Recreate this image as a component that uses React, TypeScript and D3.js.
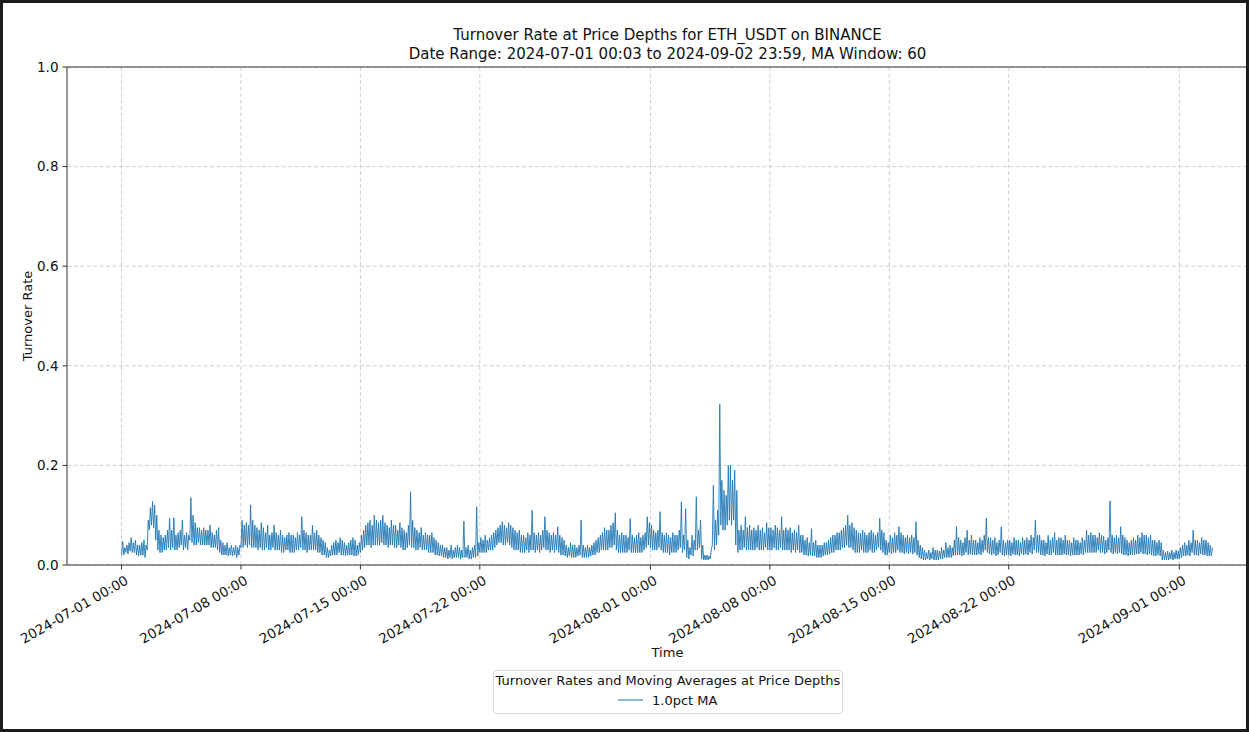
import React from "react";
import * as d3 from "d3";

// 1.0pct MA turnover rate: for every 3-hour slot the band top (highs) and
// band bottom (lows); one row per day, one array pair per week.
const highsW1 = [
  0.048, 0.035, 0.04, 0.045, 0.055, 0.045, 0.05, 0.04,
  0.04, 0.045, 0.05, 0.04, 0.09, 0.115, 0.128, 0.12,
  0.1, 0.07, 0.06, 0.055, 0.06, 0.07, 0.094, 0.07,
  0.095, 0.06, 0.065, 0.07, 0.09, 0.06, 0.065, 0.06,
  0.135, 0.1, 0.085, 0.075, 0.075, 0.07, 0.075, 0.07,
  0.07, 0.08, 0.065, 0.06, 0.07, 0.075, 0.05, 0.045,
  0.04, 0.045, 0.035, 0.04, 0.035, 0.04, 0.035, 0.04,
];
const lowsW1 = [
  0.02, 0.02, 0.025, 0.022, 0.028, 0.025, 0.025, 0.02,
  0.018, 0.02, 0.02, 0.015, 0.03, 0.07, 0.08, 0.075,
  0.05, 0.03, 0.025, 0.025, 0.03, 0.03, 0.035, 0.03,
  0.035, 0.03, 0.03, 0.035, 0.04, 0.03, 0.035, 0.03,
  0.05, 0.045, 0.04, 0.04, 0.045, 0.04, 0.04, 0.04,
  0.04, 0.04, 0.035, 0.035, 0.035, 0.03, 0.025, 0.02,
  0.02, 0.02, 0.018, 0.02, 0.018, 0.02, 0.015, 0.02,
];
const highsW2 = [
  0.09, 0.08, 0.085, 0.08, 0.12, 0.09, 0.08, 0.075,
  0.07, 0.085, 0.075, 0.065, 0.08, 0.06, 0.065, 0.08,
  0.065, 0.06, 0.07, 0.06, 0.055, 0.06, 0.065, 0.06,
  0.06, 0.055, 0.065, 0.06, 0.097, 0.07, 0.065, 0.06,
  0.06, 0.08, 0.065, 0.07, 0.06, 0.055, 0.05, 0.045,
  0.035, 0.03, 0.04, 0.045, 0.05, 0.045, 0.055, 0.05,
  0.045, 0.04, 0.045, 0.05, 0.055, 0.05, 0.04, 0.045,
];
const lowsW2 = [
  0.035, 0.035, 0.04, 0.035, 0.04, 0.035, 0.035, 0.035,
  0.03, 0.035, 0.03, 0.03, 0.035, 0.03, 0.03, 0.035,
  0.03, 0.03, 0.03, 0.025, 0.025, 0.03, 0.03, 0.025,
  0.025, 0.025, 0.03, 0.03, 0.035, 0.03, 0.03, 0.025,
  0.03, 0.03, 0.03, 0.03, 0.025, 0.025, 0.02, 0.02,
  0.015, 0.015, 0.018, 0.02, 0.02, 0.02, 0.025, 0.02,
  0.02, 0.018, 0.02, 0.02, 0.02, 0.018, 0.018, 0.02,
];
const highsW3 = [
  0.06, 0.07, 0.08, 0.085, 0.09, 0.08, 0.1, 0.09,
  0.085, 0.09, 0.1, 0.085, 0.08, 0.075, 0.09, 0.08,
  0.08, 0.07, 0.085, 0.075, 0.07, 0.065, 0.08, 0.147,
  0.09, 0.075, 0.07, 0.065, 0.075, 0.06, 0.065, 0.06,
  0.06, 0.065, 0.055, 0.05, 0.045, 0.04, 0.04, 0.035,
  0.035, 0.03, 0.04, 0.03, 0.035, 0.04, 0.035, 0.03,
  0.088, 0.035, 0.04, 0.03, 0.035, 0.04, 0.117, 0.045,
];
const lowsW3 = [
  0.025, 0.03, 0.035, 0.04, 0.04, 0.035, 0.04, 0.04,
  0.04, 0.04, 0.045, 0.04, 0.04, 0.035, 0.04, 0.04,
  0.035, 0.035, 0.04, 0.035, 0.03, 0.03, 0.035, 0.04,
  0.035, 0.035, 0.03, 0.03, 0.035, 0.03, 0.03, 0.03,
  0.025, 0.025, 0.025, 0.02, 0.02, 0.018, 0.018, 0.015,
  0.015, 0.012, 0.015, 0.012, 0.015, 0.015, 0.015, 0.012,
  0.015, 0.015, 0.015, 0.012, 0.012, 0.015, 0.015, 0.018,
];
const highsW4 = [
  0.055, 0.05, 0.06, 0.05, 0.055, 0.06, 0.065, 0.07,
  0.075, 0.08, 0.087, 0.08, 0.075, 0.085, 0.08, 0.075,
  0.07, 0.065, 0.07, 0.06, 0.06, 0.055, 0.065, 0.06,
  0.11, 0.065, 0.06, 0.065, 0.06, 0.07, 0.097, 0.07,
  0.065, 0.06, 0.065, 0.06, 0.077, 0.06, 0.055, 0.05,
  0.04, 0.035, 0.045, 0.04, 0.04, 0.035, 0.04, 0.09,
  0.04, 0.035, 0.04, 0.035, 0.04, 0.045, 0.05, 0.055,
];
const lowsW4 = [
  0.025, 0.025, 0.025, 0.025, 0.03, 0.03, 0.03, 0.035,
  0.04, 0.045, 0.045, 0.04, 0.04, 0.045, 0.04, 0.035,
  0.03, 0.03, 0.03, 0.025, 0.025, 0.025, 0.03, 0.025,
  0.03, 0.03, 0.025, 0.03, 0.025, 0.03, 0.035, 0.03,
  0.03, 0.025, 0.03, 0.025, 0.03, 0.025, 0.02, 0.02,
  0.018, 0.015, 0.018, 0.015, 0.015, 0.015, 0.018, 0.02,
  0.015, 0.015, 0.015, 0.015, 0.018, 0.02, 0.02, 0.025,
];
const highsW5 = [
  0.06, 0.065, 0.075, 0.07, 0.07, 0.08, 0.085, 0.105,
  0.07, 0.06, 0.065, 0.06, 0.06, 0.055, 0.093, 0.06,
  0.055, 0.06, 0.065, 0.055, 0.06, 0.065, 0.097, 0.085,
  0.08, 0.07, 0.065, 0.07, 0.107, 0.065, 0.06, 0.065,
  0.06, 0.055, 0.065, 0.06, 0.06, 0.07, 0.127, 0.06,
  0.113, 0.05, 0.035, 0.06, 0.05, 0.137, 0.07, 0.09,
  0.04, 0.02, 0.02, 0.018, 0.03, 0.16, 0.09, 0.11,
];
const lowsW5 = [
  0.025, 0.03, 0.03, 0.03, 0.03, 0.035, 0.035, 0.04,
  0.03, 0.025, 0.025, 0.025, 0.025, 0.025, 0.03, 0.025,
  0.025, 0.025, 0.025, 0.025, 0.025, 0.03, 0.035, 0.04,
  0.035, 0.03, 0.03, 0.03, 0.035, 0.03, 0.025, 0.025,
  0.025, 0.02, 0.025, 0.025, 0.025, 0.03, 0.035, 0.025,
  0.03, 0.015, 0.012, 0.02, 0.018, 0.03, 0.03, 0.035,
  0.012, 0.01, 0.01, 0.01, 0.012, 0.04, 0.03, 0.04,
];
const highsW6 = [
  0.323, 0.17, 0.15, 0.14, 0.2, 0.2, 0.17, 0.19,
  0.15, 0.07, 0.08, 0.07, 0.097, 0.075, 0.08, 0.07,
  0.075, 0.07, 0.08, 0.07, 0.075, 0.065, 0.085, 0.075,
  0.075, 0.07, 0.08, 0.075, 0.07, 0.097, 0.07, 0.075,
  0.07, 0.075, 0.065, 0.07, 0.065, 0.08, 0.06, 0.06,
  0.05, 0.055, 0.045, 0.073, 0.045, 0.05, 0.04, 0.04,
  0.04, 0.045, 0.045, 0.05, 0.055, 0.06, 0.06, 0.065,
];
const lowsW6 = [
  0.06, 0.08, 0.07, 0.07, 0.08, 0.09, 0.08, 0.09,
  0.04, 0.025, 0.03, 0.03, 0.035, 0.03, 0.03, 0.03,
  0.03, 0.03, 0.035, 0.03, 0.03, 0.03, 0.035, 0.03,
  0.03, 0.03, 0.035, 0.03, 0.03, 0.035, 0.03, 0.03,
  0.03, 0.03, 0.025, 0.03, 0.025, 0.03, 0.025, 0.025,
  0.02, 0.02, 0.018, 0.02, 0.018, 0.018, 0.015, 0.015,
  0.015, 0.018, 0.02, 0.02, 0.022, 0.025, 0.025, 0.03,
];
const highsW7 = [
  0.065, 0.07, 0.075, 0.08, 0.1, 0.08, 0.085, 0.075,
  0.07, 0.065, 0.064, 0.07, 0.065, 0.06, 0.065, 0.07,
  0.065, 0.06, 0.065, 0.094, 0.07, 0.065, 0.05, 0.045,
  0.06, 0.055, 0.065, 0.06, 0.077, 0.065, 0.06, 0.055,
  0.06, 0.055, 0.06, 0.055, 0.087, 0.05, 0.04, 0.035,
  0.03, 0.025, 0.03, 0.025, 0.035, 0.03, 0.03, 0.028,
  0.035, 0.03, 0.045, 0.035, 0.04, 0.035, 0.05, 0.077,
];
const lowsW7 = [
  0.03, 0.03, 0.035, 0.035, 0.04, 0.035, 0.035, 0.03,
  0.025, 0.025, 0.025, 0.03, 0.025, 0.025, 0.025, 0.03,
  0.025, 0.025, 0.03, 0.035, 0.03, 0.025, 0.02, 0.02,
  0.025, 0.022, 0.025, 0.025, 0.03, 0.025, 0.025, 0.022,
  0.025, 0.022, 0.025, 0.022, 0.025, 0.02, 0.015, 0.012,
  0.01, 0.01, 0.012, 0.01, 0.012, 0.01, 0.01, 0.01,
  0.012, 0.012, 0.015, 0.015, 0.015, 0.015, 0.018, 0.02,
];
const highsW8 = [
  0.055, 0.05, 0.045, 0.055, 0.07, 0.05, 0.06, 0.05,
  0.05, 0.045, 0.055, 0.05, 0.06, 0.094, 0.055, 0.055,
  0.05, 0.055, 0.045, 0.05, 0.077, 0.05, 0.045, 0.05,
  0.05, 0.045, 0.055, 0.05, 0.05, 0.045, 0.055, 0.05,
  0.055, 0.05, 0.06, 0.055, 0.09, 0.06, 0.06, 0.05,
  0.05, 0.045, 0.06, 0.05, 0.055, 0.065, 0.05, 0.055,
  0.055, 0.05, 0.06, 0.05, 0.05, 0.045, 0.055, 0.05,
];
const lowsW8 = [
  0.02, 0.02, 0.018, 0.02, 0.025, 0.02, 0.022, 0.02,
  0.02, 0.02, 0.022, 0.02, 0.025, 0.03, 0.025, 0.022,
  0.02, 0.022, 0.018, 0.02, 0.025, 0.02, 0.018, 0.02,
  0.02, 0.018, 0.022, 0.02, 0.02, 0.018, 0.022, 0.02,
  0.022, 0.02, 0.025, 0.022, 0.03, 0.025, 0.025, 0.02,
  0.02, 0.018, 0.022, 0.02, 0.02, 0.025, 0.02, 0.02,
  0.02, 0.02, 0.022, 0.02, 0.02, 0.018, 0.02, 0.02,
];
const highsW9 = [
  0.05, 0.045, 0.055, 0.05, 0.07, 0.06, 0.065, 0.06,
  0.06, 0.055, 0.065, 0.06, 0.058, 0.05, 0.055, 0.129,
  0.06, 0.055, 0.06, 0.055, 0.077, 0.06, 0.055, 0.05,
  0.045, 0.05, 0.055, 0.05, 0.06, 0.055, 0.065, 0.06,
  0.06, 0.055, 0.06, 0.05, 0.05, 0.045, 0.05, 0.045,
  0.03, 0.025, 0.028, 0.025, 0.03, 0.025, 0.03, 0.028,
  0.035, 0.04, 0.045, 0.04, 0.05, 0.045, 0.07, 0.05,
];
const lowsW9 = [
  0.02, 0.02, 0.022, 0.02, 0.025, 0.025, 0.025, 0.025,
  0.025, 0.025, 0.03, 0.025, 0.025, 0.022, 0.025, 0.03,
  0.025, 0.022, 0.025, 0.022, 0.025, 0.022, 0.02, 0.02,
  0.018, 0.02, 0.02, 0.02, 0.022, 0.022, 0.025, 0.022,
  0.022, 0.02, 0.022, 0.02, 0.018, 0.018, 0.02, 0.018,
  0.01, 0.01, 0.01, 0.01, 0.012, 0.01, 0.012, 0.012,
  0.012, 0.015, 0.018, 0.018, 0.02, 0.018, 0.025, 0.02,
];
const highsW10 = [0.05, 0.045, 0.055, 0.05, 0.05, 0.045, 0.04, 0.035];
const lowsW10 = [0.02, 0.018, 0.022, 0.02, 0.02, 0.018, 0.018, 0.018];

const startTime = new Date(2024, 6, 1, 0, 3);
const endTime = new Date(2024, 8, 2, 23, 59);
const slotHours = 3;

const xTickDates = [
  new Date(2024, 6, 1), new Date(2024, 6, 8), new Date(2024, 6, 15), new Date(2024, 6, 22),
  new Date(2024, 7, 1), new Date(2024, 7, 8), new Date(2024, 7, 15), new Date(2024, 7, 22),
  new Date(2024, 8, 1),
];
const xTickLabels = [
  "2024-07-01 00:00", "2024-07-08 00:00", "2024-07-15 00:00", "2024-07-22 00:00",
  "2024-08-01 00:00", "2024-08-08 00:00", "2024-08-15 00:00", "2024-08-22 00:00",
  "2024-09-01 00:00",
];
const yTicks = [0.0, 0.2, 0.4, 0.6, 0.8, 1.0];

const titleLine1 = "Turnover Rate at Price Depths for ETH_USDT on BINANCE";
const titleLine2 = "Date Range: 2024-07-01 00:03 to 2024-09-02 23:59, MA Window: 60";
const yAxisLabel = "Turnover Rate";
const xAxisLabel = "Time";
const legendTitle = "Turnover Rates and Moving Averages at Price Depths";
const seriesName = "1.0pct MA";

export default function App() {
  const W = 1249, H = 732;
  const left = 67, top = 67, bottom = 565;
  const font = "'DejaVu Sans', sans-serif";

  const highs = [
    ...highsW1, ...highsW2, ...highsW3, ...highsW4, ...highsW5,
    ...highsW6, ...highsW7, ...highsW8, ...highsW9, ...highsW10,
  ];
  const lows = [
    ...lowsW1, ...lowsW2, ...lowsW3, ...lowsW4, ...lowsW5,
    ...lowsW6, ...lowsW7, ...lowsW8, ...lowsW9, ...lowsW10,
  ];
  const slotMs = slotHours * 3600 * 1000;
  const data: { t: Date; v: number }[] = [];
  highs.forEach((h, i) => {
    const t0 = startTime.getTime() + i * slotMs;
    data.push({ t: new Date(t0), v: lows[i] });
    data.push({ t: new Date(t0 + slotMs / 2), v: h });
  });

  const span = endTime.getTime() - startTime.getTime();
  const pad = span * 0.05;
  const x = d3.scaleTime()
    .domain([new Date(startTime.getTime() - pad), new Date(endTime.getTime() + pad)])
    .range([left, 1268]);
  const y = d3.scaleLinear().domain([0, 1]).range([bottom, top]);
  const right = x.range()[1];

  const line = d3.line<{ t: Date; v: number }>()
    .x((d) => x(d.t))
    .y((d) => y(d.v));

  const gridColor = "#cfcfcf";
  const axisColor = "#333";
  const tickFs = 13.5;

  return (
    <svg width={W} height={H} style={{ position: "absolute", left: 0, top: 0, background: "#fff" }}
      fontFamily={font}>
      <rect x={0} y={0} width={W} height={H} fill="#fff" />
      {xTickDates.map((d, i) => (
        <line key={"gx" + i} x1={x(d)} x2={x(d)} y1={top} y2={bottom}
          stroke={gridColor} strokeWidth={1} strokeDasharray="4,2.5" />
      ))}
      {yTicks.map((t, i) => (
        <line key={"gy" + i} x1={left} x2={right} y1={y(t)} y2={y(t)}
          stroke={gridColor} strokeWidth={1} strokeDasharray="4,2.5" />
      ))}
      <path d={line(data) || ""} fill="none" stroke="#1f77b4" strokeWidth={0.9} strokeLinejoin="round" />
      <line x1={left} x2={right} y1={top} y2={top} stroke={axisColor} strokeWidth={1} />
      <line x1={left} x2={right} y1={bottom} y2={bottom} stroke={axisColor} strokeWidth={1} />
      <line x1={left} x2={left} y1={top} y2={bottom} stroke={axisColor} strokeWidth={1} />
      {yTicks.map((t, i) => (
        <g key={"yt" + i}>
          <line x1={left - 4.5} x2={left} y1={y(t)} y2={y(t)} stroke={axisColor} strokeWidth={1} />
          <text x={left - 8.5} y={y(t)} dy="0.35em" textAnchor="end" fontSize={tickFs} fill="#111">
            {t.toFixed(1)}
          </text>
        </g>
      ))}
      {xTickDates.map((d, i) => (
        <g key={"xt" + i}>
          <line x1={x(d)} x2={x(d)} y1={bottom} y2={bottom + 4.5} stroke={axisColor} strokeWidth={1} />
          <text transform={`translate(${x(d) + 3},${bottom + 10}) rotate(-30)`}
            textAnchor="end" dy="0.7em" fontSize={tickFs} fill="#111">
            {xTickLabels[i]}
          </text>
        </g>
      ))}
      <text x={(left + right) / 2} y={40} textAnchor="middle" fontSize={15} fill="#111">{titleLine1}</text>
      <text x={(left + right) / 2} y={59} textAnchor="middle" fontSize={15} fill="#111">{titleLine2}</text>
      <text transform={`translate(32,${(top + bottom) / 2}) rotate(-90)`} textAnchor="middle"
        fontSize={13} fill="#111">{yAxisLabel}</text>
      <text x={(left + right) / 2} y={657} textAnchor="middle" fontSize={13} fill="#111">{xAxisLabel}</text>
      <rect x={493.5} y={670.5} width={349} height={43} rx={3} fill="#fff" stroke="#d6d6d6" />
      <text x={668} y={685} textAnchor="middle" fontSize={13} fill="#111">{legendTitle}</text>
      <line x1={618} x2={643} y1={700} y2={700} stroke="#1f77b4" strokeWidth={1} />
      <text x={652} y={705} fontSize={13} fill="#111">{seriesName}</text>
      <rect x={1.5} y={1.5} width={W - 3} height={H - 3} fill="none" stroke="#1c1c1c" strokeWidth={3} />
    </svg>
  );
}
